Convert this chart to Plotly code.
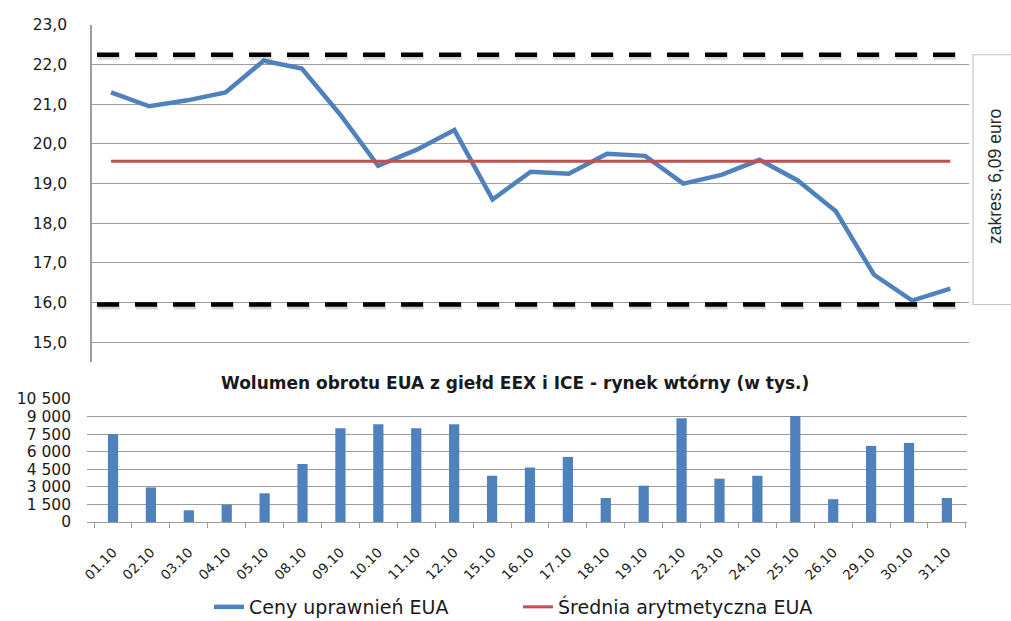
import numpy as np
import plotly.graph_objects as go

W, H = 1011, 621

# ---- data ----
dni = ["01.10", "02.10", "03.10", "04.10", "05.10", "08.10", "09.10", "10.10", "11.10",
       "12.10", "15.10", "16.10", "17.10", "18.10", "19.10", "22.10", "23.10", "24.10",
       "25.10", "26.10", "29.10", "30.10", "31.10"]
ceny = [21.3, 20.95, 21.1, 21.3, 22.1, 21.9, 20.75, 19.45, 19.85, 20.35, 18.6, 19.3,
        19.25, 19.75, 19.7, 19.0, 19.22, 19.6, 19.08, 18.3, 16.7, 16.05, 16.35]
wolumen = [7500, 2950, 1000, 1480, 2450, 4950, 8000, 8350, 8000, 8350, 3950, 4650,
           5550, 2050, 3100, 8850, 3700, 3950, 9050, 1950, 6500, 6750, 2050]
srednia = float(np.mean(ceny))
gorna_linia = 22.25
dolna_linia = 15.95
ticki_ceny = [15, 16, 17, 18, 19, 20, 21, 22, 23]
ticki_wolumen = [0, 1500, 3000, 4500, 6000, 7500, 9000, 10500]

BLUE = "#4F81BD"
RED = "#C0504D"
GRID = "#9c9c9c"
TXT = "#1a1a1a"


def px(v):
    return v / W


def py(v):
    return 1 - v / H


fig = go.Figure()

fig.add_trace(go.Scatter(x=dni, y=ceny, mode="lines", name="Ceny uprawnień EUA",
                         line=dict(color=BLUE, width=4.5), xaxis="x", yaxis="y"))
fig.add_trace(go.Scatter(x=dni, y=[srednia] * len(dni), mode="lines",
                         name="Średnia arytmetyczna EUA",
                         line=dict(color=RED, width=3), xaxis="x", yaxis="y"))
fig.add_trace(go.Bar(x=dni, y=wolumen, marker=dict(color=BLUE, line=dict(width=0)),
                     showlegend=False, xaxis="x2", yaxis="y2"))

shapes = []
for val in (gorna_linia, dolna_linia):
    shapes.append(dict(type="line", xref="paper", yref="y", x0=px(98), x1=px(972),
                       y0=val - 0.04, y1=val - 0.04,
                       line=dict(color="rgba(0,0,0,0.16)", width=7, dash="22px,16px"),
                       layer="above"))
    shapes.append(dict(type="line", xref="paper", yref="y", x0=px(97), x1=px(971),
                       y0=val, y1=val,
                       line=dict(color="black", width=4.5, dash="22px,16px"),
                       layer="above"))
# bracket box on the right
shapes.append(dict(type="rect", xref="paper", yref="y", x0=px(973), x1=px(1020),
                   y0=dolna_linia, y1=gorna_linia, fillcolor="rgba(0,0,0,0)",
                   line=dict(color="#c4c4c4", width=1.2), layer="above"))

fig.update_layout(
    width=W, height=H,
    margin=dict(l=0, r=0, t=0, b=0, autoexpand=False),
    paper_bgcolor="white", plot_bgcolor="white",
    separators=", ",
    font=dict(family="DejaVu Sans", color=TXT, size=14),
    bargap=0.73,
    shapes=shapes,
    xaxis=dict(domain=[px(92), px(969)], anchor="y", type="category",
               range=[-0.5, 22.49], showticklabels=False, showgrid=False,
               showline=False, zeroline=False, ticks="", automargin=False),
    yaxis=dict(domain=[py(362), py(25)], anchor="x", range=[14.5, 23],
               tickvals=ticki_ceny, tickformat=".1f", showgrid=True,
               gridcolor=GRID, gridwidth=1, showline=True, linecolor=GRID,
               linewidth=1.5, zeroline=False, ticks="", ticklabelstandoff=20,
               automargin=False,
               tickfont=dict(family="DejaVu Sans", size=15.5, color=TXT)),
    xaxis2=dict(domain=[px(87), px(967)], anchor="y2", type="category",
                range=[-0.686, 22.53], showgrid=False, showline=True,
                linecolor=GRID, linewidth=1.2, ticks="outside", tickson="boundaries",
                ticklen=5, tickcolor=GRID, tickangle=-45, ticklabelstandoff=16,
                automargin=False,
                tickfont=dict(family="DejaVu Sans", size=13.5, color=TXT)),
    yaxis2=dict(domain=[py(522), py(399)], anchor="x2", range=[0, 10500],
                tickvals=ticki_wolumen, tickformat=",d", showgrid=True,
                gridcolor=GRID, gridwidth=1, showline=False, zeroline=False,
                ticks="", ticklabelstandoff=15, automargin=False,
                tickfont=dict(family="DejaVu Sans", size=15.5, color=TXT)),
    legend=dict(orientation="h", x=px(518), xanchor="center", y=py(607),
                yanchor="middle", font=dict(family="DejaVu Sans", size=19,
                                            color=TXT),
                entrywidth=264, entrywidthmode="pixels",
                tracegroupgap=0, bgcolor="rgba(0,0,0,0)"),
    annotations=[
        dict(text="<b>Wolumen obrotu EUA z giełd EEX i ICE - rynek wtórny (w tys.)</b>",
             xref="paper", yref="paper", x=px(515), y=py(383), showarrow=False,
             xanchor="center", yanchor="middle",
             font=dict(family="DejaVu Sans", size=17, color=TXT)),
        dict(text="zakres: 6,09 euro", xref="paper", yref="paper", x=px(995),
             y=py(177), showarrow=False, textangle=-90, xanchor="center",
             yanchor="middle",
             font=dict(family="Liberation Sans Narrow, Liberation Sans", size=17.5,
                       color="#2a2a2a")),
    ],
)

fig.write_html("out.html", config={"displayModeBar": False},
               post_script="document.body.style.margin='0px';"
                           "document.body.style.overflow='hidden';")
